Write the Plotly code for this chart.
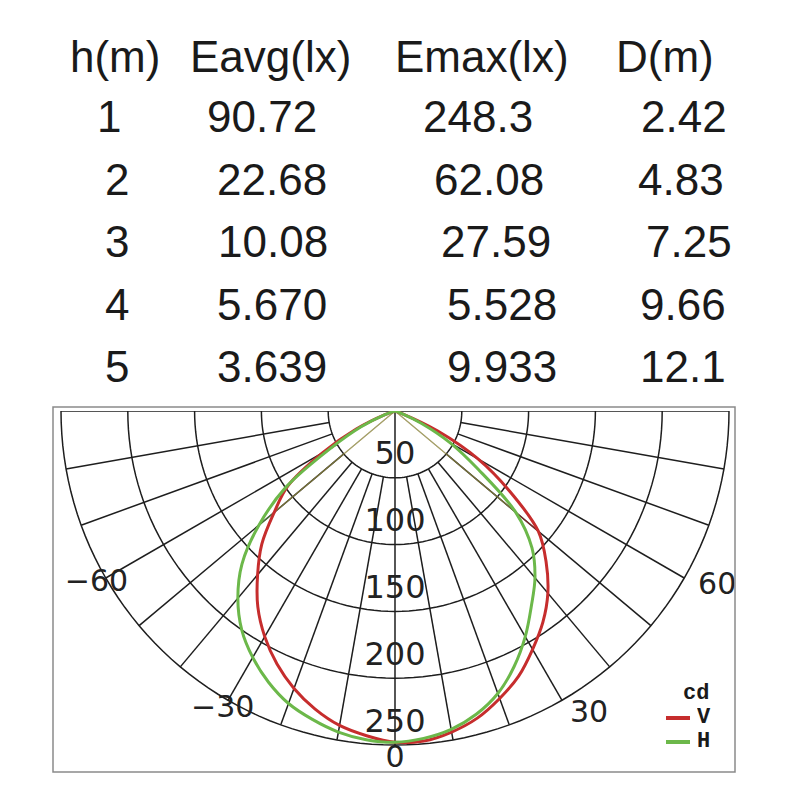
import plotly.graph_objects as go

# ---- table data ----
headers = ["h(m)", "Eavg(lx)", "Emax(lx)", "D(m)"]
heights = ["1", "2", "3", "4", "5"]
e_avg = ["90.72", "22.68", "10.08", "5.670", "3.639"]
e_max = ["248.3", "62.08", "27.59", "5.528", "9.933"]
dist = ["2.42", "4.83", "7.25", "9.66", "12.1"]

# ---- polar data (cd) ----
angles = [-90, -85, -80, -75, -70, -65, -60, -55, -50, -45, -40, -35, -30, -25, -20, -15, -10, -5,
          0, 5, 10, 15, 20, 25, 30, 35, 40, 45, 50, 55, 60, 65, 70, 75, 80, 85, 90]
v_cd = [0, 0, 0, 0, 8, 32, 63, 98, 118, 141, 160, 179, 195, 209, 221, 231, 239, 244,
        248, 248, 244, 238, 229, 219, 206, 193, 178, 160, 140, 105, 72, 35, 5, 0, 0, 0, 0]
h_cd = [0, 0, 0, 0, 8, 28, 55, 100, 133, 162, 183, 200, 213, 224, 233, 239, 244, 247,
        248, 246, 242, 235, 225, 211, 195, 178, 163, 145, 118, 76, 48, 22, 5, 0, 0, 0, 0]
series_names = ["V", "H"]
unit = "cd"

ring_ticks = [50, 100, 150, 200, 250]
spoke_angles = [-90, -80, -70, -60, -50, -40, -30, -20, -10, 0, 10, 20, 30, 40, 50, 60, 70, 80, 90]
angle_labels = [-60, -30, 0, 30, 60]

# ---- layout helpers (pixel -> paper); the page body adds an 8px margin ----
W, H = 800, 800
OFF = 8


def px(x):
    return (x - OFF) / W


def py(y):
    return 1 - (y - OFF) / H


header_x = [115, 270, 482, 665]
header_y = 56
row_y = [116, 179, 241, 304, 366]
cell_x = [
    [109, 262, 478, 684],
    [117, 272, 489, 681],
    [117, 273, 496, 689],
    [117, 272, 502, 683],
    [117, 272, 502, 683],
]

center_x, center_y, radius = 395, 411, 334
r_max = 272                       # radial range, a bit beyond the outer ring for the labels
r_px = radius * r_max / ring_ticks[-1]

# angle label placement: negative ones centred, positive ones start at the point
label_r = [258, 258, 261, 262, 262]
label_pos = ["middle center", "middle center", "middle center", "middle right", "middle right"]

RED = "#c62d2d"
GREEN = "#6cb84a"
GRID = "#1e1e1e"

fig = go.Figure()

# grid: half circles
for v in ring_ticks:
    th = list(range(-90, 91, 2))
    fig.add_trace(go.Scatterpolar(r=[v] * len(th), theta=th, mode="lines",
                                  line=dict(color=GRID, width=1.5),
                                  showlegend=False, hoverinfo="skip"))

# grid: spokes (start at first ring, except 0 and +-90)
sr, st = [], []
for a in spoke_angles:
    start = 0 if a in (-90, 0, 90) else ring_ticks[0]
    sr += [start, ring_ticks[-1], None]
    st += [a, a, None]
fig.add_trace(go.Scatterpolar(r=sr, theta=st, mode="lines",
                              line=dict(color=GRID, width=1.5),
                              showlegend=False, hoverinfo="skip"))

# faint chords from the apex
for vals, col in ((v_cd, RED), (h_cd, GREEN)):
    i_l, i_r = angles.index(-50), angles.index(50)
    fig.add_trace(go.Scatterpolar(r=[vals[i_l], 0, vals[i_r]], theta=[-50, 0, 50],
                                  mode="lines", line=dict(color=col, width=1.2),
                                  opacity=0.55, showlegend=False, hoverinfo="skip"))

# curves
for vals, col, name in ((v_cd, RED, series_names[0]), (h_cd, GREEN, series_names[1])):
    fig.add_trace(go.Scatterpolar(r=vals, theta=angles, mode="lines", name=name,
                                  line=dict(color=col, width=3, shape="spline"),
                                  showlegend=False))

# radial value labels along the 0 axis
fig.add_trace(go.Scatterpolar(r=[v - 16 for v in ring_ticks], theta=[0] * len(ring_ticks),
                              mode="text", text=[str(v) for v in ring_ticks],
                              textfont=dict(family="DejaVu Sans", size=32, color="#222"),
                              showlegend=False, hoverinfo="skip"))

# angle labels
fig.add_trace(go.Scatterpolar(r=label_r, theta=angle_labels, mode="text",
                              text=[str(a).replace("-", "\u2212") for a in angle_labels],
                              textposition=label_pos,
                              textfont=dict(family="DejaVu Sans", size=30, color="#222"),
                              showlegend=False, hoverinfo="skip"))

# table as annotations
tfont = dict(family="Liberation Sans, Arial", size=44, color="#1a1a1a")
annotations = []
for j, h in enumerate(headers):
    annotations.append(dict(x=px(header_x[j]), y=py(header_y), xref="paper", yref="paper",
                            text=h, showarrow=False, xanchor="center", yanchor="middle",
                            font=tfont))
for i in range(len(heights)):
    row = [heights[i], e_avg[i], e_max[i], dist[i]]
    for j, t in enumerate(row):
        annotations.append(dict(x=px(cell_x[i][j]), y=py(row_y[i]), xref="paper", yref="paper",
                                text=t, showarrow=False, xanchor="center", yanchor="middle",
                                font=tfont))

# legend drawn by hand: unit title, then a short swatch per series
lfont = dict(family="Liberation Mono", size=22, color="#1a1a1a")
annotations.append(dict(x=px(711), y=py(693), xref="paper", yref="paper", text="<b>%s</b>" % unit,
                        showarrow=False, xanchor="right", yanchor="middle", height=20,
                        font=lfont))
shapes = [dict(type="rect", xref="paper", yref="paper",
               x0=px(53), x1=px(735), y0=py(772), y1=py(407),
               line=dict(color="#8a8a8a", width=1.5))]
for k, (name, col) in enumerate(zip(series_names, (RED, GREEN))):
    yy = 717 + 24 * k
    annotations.append(dict(x=px(695), y=py(yy), xref="paper", yref="paper",
                            text="<b>%s</b>" % name, showarrow=False, height=20,
                            xanchor="left", yanchor="middle", font=lfont))
    shapes.append(dict(type="line", xref="paper", yref="paper",
                       x0=px(666), x1=px(690), y0=py(yy + 1), y1=py(yy + 1),
                       line=dict(color=col, width=4)))

fig.update_layout(
    width=W, height=H,
    margin=dict(l=0, r=0, t=0, b=0),
    paper_bgcolor="white",
    plot_bgcolor="white",
    polar=dict(
        domain=dict(x=[px(center_x - r_px), px(center_x + r_px)],
                    y=[py(center_y + r_px), py(center_y)]),
        sector=[180, 360],
        bgcolor="rgba(0,0,0,0)",
        radialaxis=dict(range=[0, r_max], showgrid=False, showline=False,
                        showticklabels=False, ticks=""),
        angularaxis=dict(rotation=-90, direction="counterclockwise", showgrid=False,
                         showline=False, showticklabels=False, ticks=""),
    ),
    showlegend=False,
    shapes=shapes,
    annotations=annotations,
)

fig.write_html("out.html")
